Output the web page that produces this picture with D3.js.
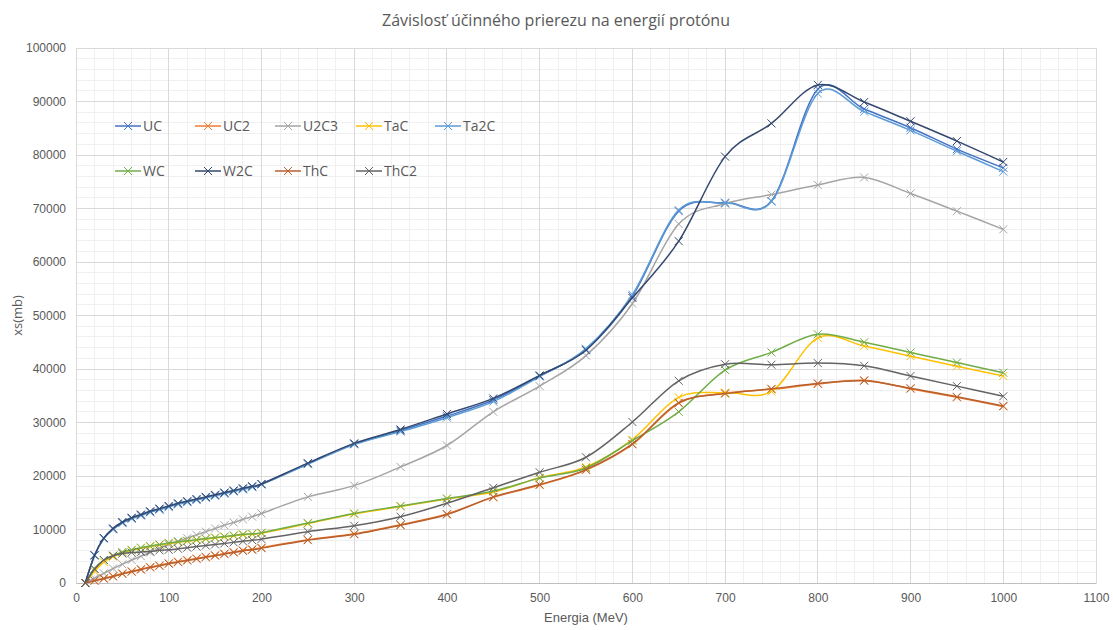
<!DOCTYPE html>
<html>
<head>
<meta charset="utf-8">
<script src="https://cdn.jsdelivr.net/npm/d3@7"></script>
<style>
  html, body { margin: 0; padding: 0; background: #ffffff; }
  svg { display: block; }
</style>
</head>
<body>
<svg id="chart" width="1113" height="630"></svg>
<script>
// ---------- DATA ----------
const chartTitle = "Závislosť účinného prierezu na energií protónu";
const xAxisTitle = "Energia (MeV)";
const yAxisTitle = "xs(mb)";

const energy = [10,20,30,40,50,60,70,80,90,100,110,120,130,140,150,160,170,180,190,200,
                250,300,350,400,450,500,550,600,650,700,750,800,850,900,950,1000];

const UC   = [0,5200,8400,10100,11300,12100,12700,13300,13800,14300,14800,15200,15600,16000,16400,16800,17200,17600,18000,18500,
              22300,26000,28500,31200,34200,38700,43600,53600,69500,71100,71400,92300,88600,85100,81100,77600];
const UC2  = [0,500,900,1300,1800,2200,2600,3000,3300,3700,4000,4300,4600,4900,5200,5500,5800,6100,6300,6600,
              8100,9200,10900,12900,16000,18300,21100,25900,33600,35500,36200,37200,37900,36300,34700,33000];
const U2C3 = [0,900,1800,2700,3500,4300,5000,5700,6500,7200,7800,8400,9000,9600,10200,10800,11300,11900,12400,13000,
              16100,18200,21700,25700,32000,36800,42500,52200,67100,70900,72600,74400,75800,72800,69500,66100];
const TaC  = [0,2200,3900,4900,5600,6100,6500,6800,7100,7400,7600,7800,8000,8200,8400,8600,8800,9000,9100,9300,
              11100,12900,14300,15700,17000,19700,21700,26800,34700,35600,35800,45800,44300,42400,40500,38700];
const Ta2C = [0,5100,8300,10000,11200,12000,12600,13200,13700,14200,14700,15100,15500,15900,16300,16700,17100,17500,17900,18400,
              22200,25900,28300,30900,33900,38600,43800,53900,69700,71000,71300,91500,88100,84600,80700,76900];
const WC   = [0,2700,4300,5100,5800,6200,6600,6900,7200,7500,7700,7900,8100,8300,8500,8700,8900,9100,9200,9400,
              11200,13000,14400,15800,17200,19600,21500,26600,32000,39800,43100,46500,45000,43100,41200,39300];
const W2C  = [0,5200,8400,10200,11400,12200,12800,13400,13900,14400,14900,15300,15700,16100,16500,16900,17300,17700,18100,18500,
              22400,26100,28700,31600,34500,38800,43500,53300,63900,79700,85900,93100,89900,86300,82600,78700];
const ThC  = [0,400,800,1200,1700,2100,2500,2900,3200,3600,3900,4200,4500,4800,5100,5400,5700,6000,6200,6500,
              8000,9100,10800,12800,16100,18400,21200,26000,33700,35400,36300,37300,37800,36400,34800,33100];
const ThC2 = [0,2600,4300,5100,5500,5700,5800,5900,6100,6200,6400,6600,6800,7000,7200,7400,7600,7800,8000,8200,
              9600,10700,12400,14900,17800,20700,23500,30100,37800,40900,40800,41100,40600,38700,36800,34900];

const seriesNames  = ["UC","UC2","U2C3","TaC","Ta2C","WC","W2C","ThC","ThC2"];
const seriesValues = [UC, UC2, U2C3, TaC, Ta2C, WC, W2C, ThC, ThC2];
const seriesColors = ["#4472C4","#ED7D31","#A5A5A5","#FFC000","#5B9BD5","#70AD47","#34486E","#B8602E","#636363"];

const xTicks = [0,100,200,300,400,500,600,700,800,900,1000,1100];
const yTicks = [0,10000,20000,30000,40000,50000,60000,70000,80000,90000,100000];

// ---------- LAYOUT ----------
const svg = d3.select("#chart");
const plot = { left: 76, right: 1096, top: 48, bottom: 583 };
const x = d3.scaleLinear().domain([0, 1100]).range([plot.left, plot.right]);
const y = d3.scaleLinear().domain([0, 100000]).range([plot.bottom, plot.top]);
const textColor = "#595959";
const tickFont = "'Liberation Sans Narrow', 'Liberation Sans', sans-serif";
const mainFont = "'Open Sans', 'Noto Sans', sans-serif";

// minor grid
const minorX = d3.range(0, 1101, 20);
const minorY = d3.range(0, 100001, 2000);
svg.append("g").selectAll("line").data(minorX).join("line")
  .attr("x1", d => x(d)).attr("x2", d => x(d))
  .attr("y1", plot.top).attr("y2", plot.bottom)
  .attr("stroke", "#f0f0f0").attr("stroke-width", 1).attr("shape-rendering", "crispEdges");
svg.append("g").selectAll("line").data(minorY).join("line")
  .attr("x1", plot.left).attr("x2", plot.right)
  .attr("y1", d => y(d)).attr("y2", d => y(d))
  .attr("stroke", "#f0f0f0").attr("stroke-width", 1).attr("shape-rendering", "crispEdges");

// major grid
svg.append("g").selectAll("line").data(xTicks).join("line")
  .attr("x1", d => x(d)).attr("x2", d => x(d))
  .attr("y1", plot.top).attr("y2", plot.bottom)
  .attr("stroke", "#d9d9d9").attr("stroke-width", 1).attr("shape-rendering", "crispEdges");
svg.append("g").selectAll("line").data(yTicks).join("line")
  .attr("x1", plot.left).attr("x2", plot.right)
  .attr("y1", d => y(d)).attr("y2", d => y(d))
  .attr("stroke", "#d9d9d9").attr("stroke-width", 1).attr("shape-rendering", "crispEdges");

// axes
const xAxis = d3.axisBottom(x).tickValues(xTicks).tickSize(0).tickPadding(10).tickFormat(d3.format("d"));
const gx = svg.append("g").attr("transform", `translate(0,${plot.bottom})`).call(xAxis);
gx.select(".domain").attr("stroke", "#bfbfbf");
gx.selectAll("text").attr("fill", textColor).style("font-family", tickFont).style("font-size", "12px");

const yAxis = d3.axisLeft(y).tickValues(yTicks).tickSize(0).tickPadding(10).tickFormat(d3.format("d"));
const gy = svg.append("g").attr("transform", `translate(${plot.left},0)`).call(yAxis);
gy.select(".domain").remove();
gy.selectAll("text").attr("fill", textColor).style("font-family", tickFont).style("font-size", "12px");

// titles
svg.append("text").attr("x", 556).attr("y", 26).attr("text-anchor", "middle")
  .attr("fill", textColor).style("font-family", mainFont).style("font-size", "16px").text(chartTitle);
svg.append("text").attr("x", (plot.left + plot.right) / 2).attr("y", 622).attr("text-anchor", "middle")
  .attr("fill", textColor).style("font-family", tickFont).style("font-size", "13px").text(xAxisTitle);
svg.append("text").attr("transform", `translate(22,${(plot.top + plot.bottom) / 2}) rotate(-90)`)
  .attr("text-anchor", "middle")
  .attr("fill", textColor).style("font-family", mainFont).style("font-size", "13px").text(yAxisTitle);

// series
const line = d3.line().x(d => x(d[0])).y(d => y(d[1])).curve(d3.curveCardinal.tension(0));
const xMark = s => `M${-s},${-s}L${s},${s}M${-s},${s}L${s},${-s}`;

seriesValues.forEach((vals, i) => {
  const pts = energy.map((e, k) => [e, vals[k]]);
  const g = svg.append("g");
  g.append("path").datum(pts).attr("d", line)
    .attr("fill", "none").attr("stroke", seriesColors[i]).attr("stroke-width", 1.5);
  g.selectAll("path.m").data(pts).join("path").attr("class", "m")
    .attr("transform", d => `translate(${x(d[0])},${y(d[1])})`)
    .attr("d", xMark(4)).attr("fill", "none")
    .attr("stroke", seriesColors[i]).attr("stroke-width", 1);
});

// legend
const legendPos = [[115,126],[195,126],[275,126],[356,126],[435,126],
                   [115,171],[195,171],[275,171],[356,171]];
seriesNames.forEach((name, i) => {
  const [lx, ly] = legendPos[i];
  const g = svg.append("g").attr("transform", `translate(${lx},${ly})`);
  g.append("line").attr("x1", 0).attr("x2", 26).attr("y1", 0).attr("y2", 0)
    .attr("stroke", seriesColors[i]).attr("stroke-width", 1.5);
  g.append("path").attr("transform", "translate(13,0)").attr("d", xMark(4))
    .attr("stroke", seriesColors[i]).attr("stroke-width", 1).attr("fill", "none");
  g.append("text").attr("x", 28).attr("y", 0).attr("dy", "0.35em")
    .attr("fill", textColor).style("font-family", mainFont).style("font-size", "14px").text(name);
});
</script>
</body>
</html>
